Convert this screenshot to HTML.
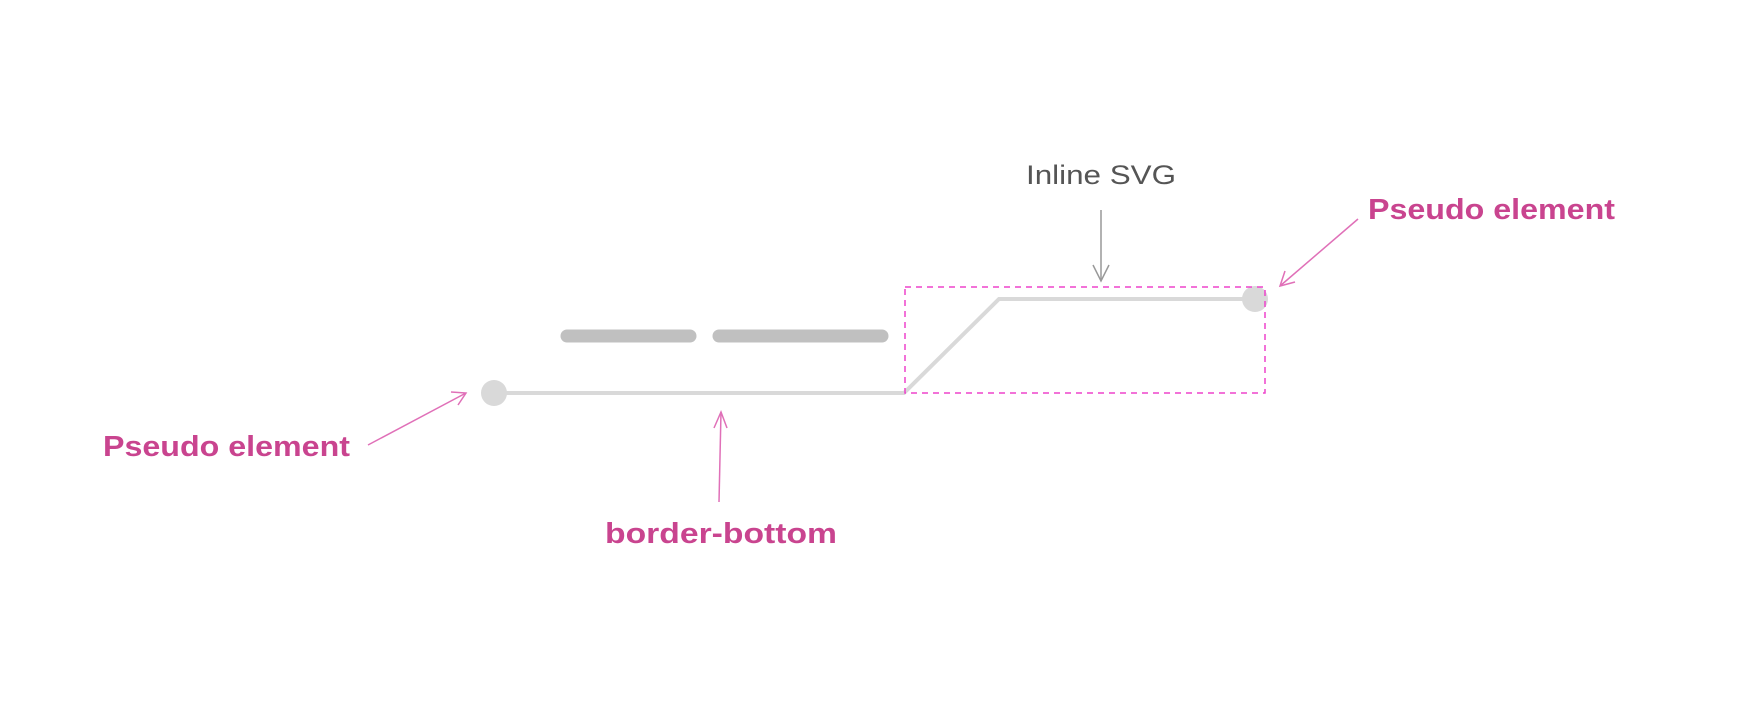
<!DOCTYPE html>
<html><head><meta charset="utf-8"><style>
html,body{margin:0;padding:0;background:#fff;}
svg{display:block;}
text{font-family:"Liberation Sans",sans-serif;}
</style></head><body>
<svg width="1750" height="704" viewBox="0 0 1750 704" xmlns="http://www.w3.org/2000/svg">
<rect width="1750" height="704" fill="#fff"/>
<!-- gray pills -->
<line x1="567" y1="336" x2="690" y2="336" stroke="#c0c0c0" stroke-width="13" stroke-linecap="round"/>
<line x1="719" y1="336" x2="882" y2="336" stroke="#c0c0c0" stroke-width="13" stroke-linecap="round"/>
<!-- line -->
<polyline points="493,393 904,393 999,299 1255,299" fill="none" stroke="#d9d9d9" stroke-width="4"/>
<circle cx="494" cy="393" r="13" fill="#d9d9d9"/>
<circle cx="1255" cy="299" r="13" fill="#d9d9d9"/>
<!-- dashed box -->
<rect x="905" y="287" width="360" height="106" fill="none" stroke="#ee44cc" stroke-width="1.5" stroke-dasharray="6,5"/>
<!-- Inline SVG -->
<text x="1101" y="184" font-size="27" fill="#555" text-anchor="middle" textLength="150" lengthAdjust="spacingAndGlyphs">Inline SVG</text>
<g stroke="#999" stroke-width="1.5" fill="none">
<line x1="1101" y1="210" x2="1101" y2="281"/>
<polyline points="1093,265 1101,281 1109,265"/>
</g>
<!-- pink labels -->
<g fill="#c9448f" font-weight="bold" font-size="29">
<text x="1368" y="219" textLength="247" lengthAdjust="spacingAndGlyphs">Pseudo element</text>
<text x="103" y="456" textLength="247" lengthAdjust="spacingAndGlyphs">Pseudo element</text>
<text x="605" y="543" textLength="232" lengthAdjust="spacingAndGlyphs">border-bottom</text>
</g>
<g stroke="#e070b8" stroke-width="1.5" fill="none">
<line x1="1358" y1="219" x2="1280" y2="286"/>
<polyline points="1285,271 1280,286 1295,282"/>
<line x1="368" y1="445" x2="466" y2="393"/>
<polyline points="451,392 466,393 458,405"/>
<line x1="719" y1="502" x2="721" y2="412"/>
<polyline points="714,428 721,412 727,428"/>
</g>
</svg>
</body></html>
